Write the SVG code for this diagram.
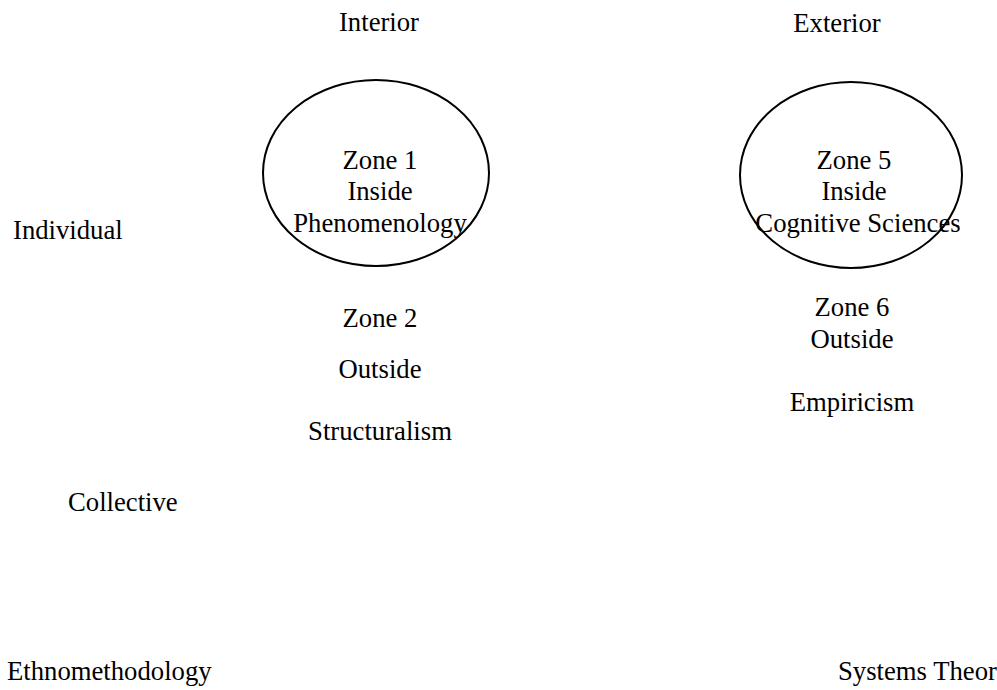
<svg xmlns="http://www.w3.org/2000/svg" width="997" height="690" viewBox="0 0 997 690">
<style>
text{font-family:"Liberation Serif","Times New Roman",serif;font-size:26.7px;fill:#000}
.c{text-anchor:middle}
ellipse{fill:none;stroke:#000;stroke-width:2}
</style>
<rect width="997" height="690" fill="#fff"/>
<g id="labels">
<text class="c" x="379" y="31">Interior</text>
<text class="c" x="837" y="32">Exterior</text>
<text x="13" y="239">Individual</text>
<text x="68" y="511">Collective</text>
<text x="7" y="680">Ethnomethodology</text>
<text x="838" y="680">Systems Theor</text>
</g>
<g id="zone1">
<ellipse cx="376" cy="173" rx="113" ry="93"/>
<text class="c" x="380" y="169">Zone 1</text>
<text class="c" x="380" y="200">Inside</text>
<text class="c" x="380" y="232">Phenomenology</text>
</g>
<g id="zone5">
<ellipse cx="851" cy="175" rx="111" ry="93"/>
<text class="c" x="854" y="169">Zone 5</text>
<text class="c" x="854" y="200">Inside</text>
<text class="c" x="858" y="232">Cognitive Sciences</text>
</g>
<g id="zone2">
<text class="c" x="380" y="327">Zone 2</text>
<text class="c" x="380" y="378">Outside</text>
<text class="c" x="380" y="440">Structuralism</text>
</g>
<g id="zone6">
<text class="c" x="852" y="316">Zone 6</text>
<text class="c" x="852" y="348">Outside</text>
<text class="c" x="852" y="411">Empiricism</text>
</g>
<g id="connectors"></g>
</svg>
